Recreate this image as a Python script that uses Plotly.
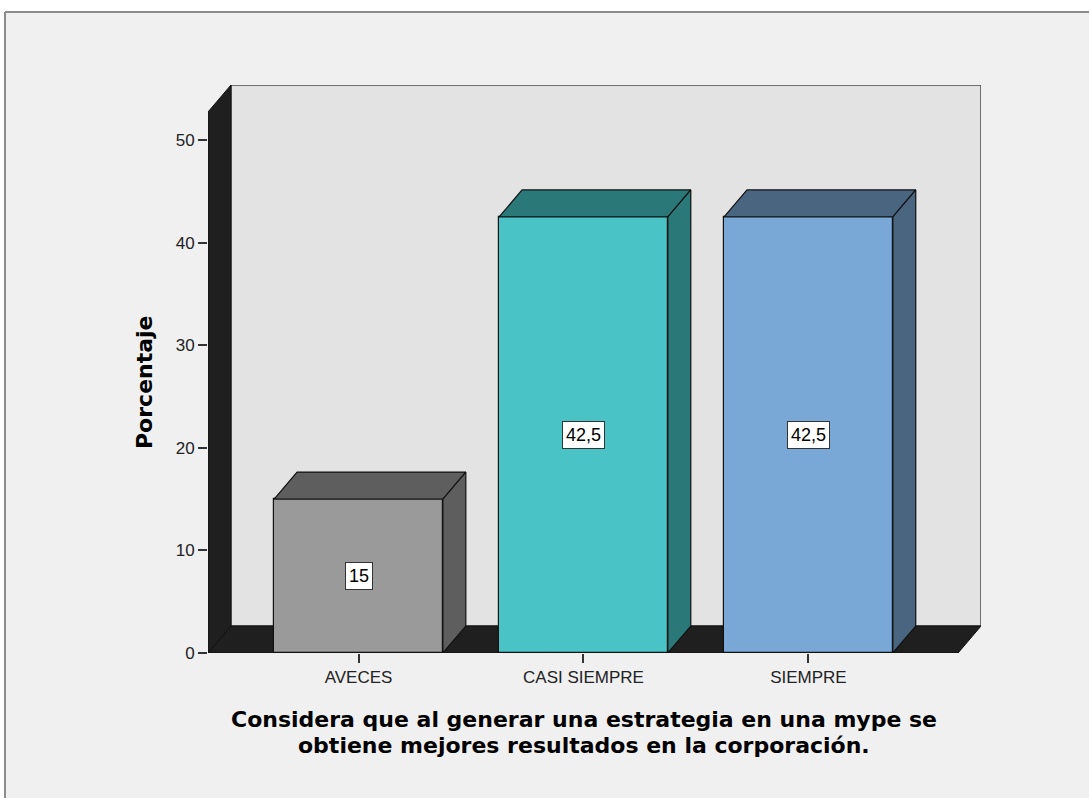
import plotly.graph_objects as go

# Response categories and their percentages
categories = ["AVECES", "CASI SIEMPRE", "SIEMPRE"]
percentages = [15, 42.5, 42.5]
value_labels = ["15", "42,5", "42,5"]
front_colors = ["#9a9a9a", "#49c3c6", "#7aa8d6"]
shade_colors = ["#5e5e5e", "#2b7878", "#4a6580"]

y_ticks = [0, 10, 20, 30, 40, 50]

W, H = 1089, 798


def px_x(p):
    return p / W


def px_y(p):
    return 1 - p / H


# plot area in pixels
PX_L, PX_R, PX_T, PX_B = 208, 981, 85, 653

# axis ranges (front plane): 225 px per category, ~10.26 px per percent
X_MIN, X_MAX = -0.669, 2.767
Y_MAX = 55.36
DX = 0.102   # depth offset along x (category units)
DY = 2.63    # depth offset along y (percent units)
BAR_W = 0.75

fig = go.Figure()

# front faces of the bars
fig.add_trace(go.Bar(
    x=list(range(len(categories))), y=percentages, width=BAR_W,
    marker=dict(color=front_colors, line=dict(color="#111111", width=1.2)),
    hoverinfo="skip", showlegend=False,
))

# top and side faces giving the 3D look
for i, v in enumerate(percentages):
    xl, xr = i - BAR_W / 2, i + BAR_W / 2
    fig.add_trace(go.Scatter(
        x=[xl, xr, xr + DX, xl + DX, xl], y=[v, v, v + DY, v + DY, v],
        mode="lines", fill="toself", fillcolor=shade_colors[i],
        line=dict(color="#111111", width=1.2), hoverinfo="skip", showlegend=False,
    ))
    fig.add_trace(go.Scatter(
        x=[xr, xr + DX, xr + DX, xr, xr], y=[0, DY, v + DY, v, 0],
        mode="lines", fill="toself", fillcolor=shade_colors[i],
        line=dict(color="#111111", width=1.2), hoverinfo="skip", showlegend=False,
    ))

shapes = [
    # outer panel background with its top and left border
    dict(type="rect", xref="paper", yref="paper", x0=px_x(5), x1=1.0,
         y0=0, y1=px_y(12), fillcolor="#f0f0f0", line=dict(width=0), layer="below"),
    dict(type="line", xref="paper", yref="paper", x0=px_x(5), x1=1.0,
         y0=px_y(12), y1=px_y(12), line=dict(color="#8c8c8c", width=2), layer="below"),
    dict(type="line", xref="paper", yref="paper", x0=px_x(5), x1=px_x(5),
         y0=0, y1=px_y(12), line=dict(color="#8c8c8c", width=2), layer="below"),
    # back wall
    dict(type="rect", xref="x", yref="y", x0=X_MIN + DX, x1=X_MAX,
         y0=DY, y1=Y_MAX, fillcolor="#e3e3e3",
         line=dict(color="#4a4a4a", width=1.5), layer="below"),
    # floor
    dict(type="path", xref="x", yref="y",
         path=f"M {X_MIN},0 L {X_MAX - DX},0 L {X_MAX},{DY} L {X_MIN + DX},{DY} Z",
         fillcolor="#1f1f1f", line=dict(color="#111111", width=1), layer="below"),
    # left side wall
    dict(type="path", xref="x", yref="y",
         path=f"M {X_MIN},0 L {X_MIN},{Y_MAX - DY} L {X_MIN + DX},{Y_MAX} L {X_MIN + DX},{DY} Z",
         fillcolor="#1f1f1f", line=dict(color="#111111", width=1), layer="below"),
]

annotations = []
for i, (v, lab) in enumerate(zip(percentages, value_labels)):
    annotations.append(dict(
        x=i, y=v / 2, xref="x", yref="y", text=lab, showarrow=False,
        xanchor="center", yanchor="middle",
        font=dict(family="Liberation Sans, Arial, sans-serif", size=18, color="#000000"),
        bgcolor="#ffffff", bordercolor="#333333", borderwidth=1, borderpad=3,
    ))

annotations.append(dict(
    x=px_x(144), y=px_y(382), xref="paper", yref="paper", text="<b>Porcentaje</b>",
    textangle=-90, showarrow=False, xanchor="center", yanchor="middle",
    font=dict(family="DejaVu Sans, sans-serif", size=22, color="#000000"),
))
title_lines = ["Considera que al generar una estrategia en una mype se",
               "obtiene mejores resultados en la corporación."]
for line, yc in zip(title_lines, [719, 745]):
    annotations.append(dict(
        x=px_x(584), y=px_y(yc), xref="paper", yref="paper",
        text=f"<b>{line}</b>", showarrow=False, xanchor="center", yanchor="middle",
        font=dict(family="DejaVu Sans, sans-serif", size=22, color="#000000"),
    ))

tick_font = dict(family="Liberation Sans, Arial, sans-serif", size=17, color="#222222")

fig.update_layout(
    width=W, height=H, autosize=False,
    margin=dict(l=0, r=0, t=0, b=0),
    paper_bgcolor="#ffffff", plot_bgcolor="rgba(0,0,0,0)",
    shapes=shapes, annotations=annotations, bargap=0,
    xaxis=dict(
        domain=[px_x(PX_L), px_x(PX_R)], range=[X_MIN, X_MAX],
        tickvals=list(range(len(categories))), ticktext=categories,
        ticks="outside", ticklen=9, tickcolor="#333333", tickwidth=1.5,
        showgrid=False, zeroline=False, showline=False, fixedrange=True,
        tickfont=tick_font, automargin=False,
    ),
    yaxis=dict(
        domain=[px_y(PX_B), px_y(PX_T)], range=[0, Y_MAX],
        tickvals=y_ticks, ticks="outside", ticklen=9, tickcolor="#333333", tickwidth=1.5,
        showgrid=False, zeroline=False, showline=False, fixedrange=True,
        tickfont=tick_font, automargin=False,
    ),
)

fig.write_html("out.html")
